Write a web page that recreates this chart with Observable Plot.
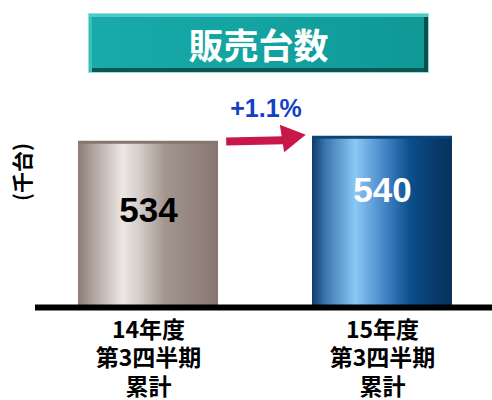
<!DOCTYPE html>
<html>
<head>
<meta charset="utf-8">
<script src="https://cdn.jsdelivr.net/npm/d3@7"></script>
<script src="https://cdn.jsdelivr.net/npm/@observablehq/plot@0.6"></script>
<style>
  html, body { margin: 0; padding: 0; background: #ffffff; }
  #wrap { position: relative; width: 492px; height: 400px; overflow: hidden; }
  #title {
    position: absolute; left: 88px; top: 13px; width: 341px; height: 60px;
    box-sizing: border-box;
    background: linear-gradient(to right, #18ABA9, #13A3A1 50%, #0E9896);
    border: 1px solid #8FE3DF;
    box-shadow: inset 0 3px 0 #4FC9C5, inset 3px 0 0 #3CBDB9, inset -4px 0 0 #0B4F4D, inset 0 -4px 0 #0C5553;
    display: flex; align-items: center; justify-content: center;
    color: #ffffff; font-family: 'Noto Sans CJK JP', sans-serif; font-weight: bold; font-size: 35px;
    z-index: 2;
  }
  #chart { position: absolute; left: 0; top: 0; }
</style>
</head>
<body>
<div id="wrap">
  <div id="title"></div>
  <div id="chart"></div>
</div>
<script>
const title = "販売台数";
const categories = ["14年度\n第3四半期\n累計", "15年度\n第3四半期\n累計"];
const values = [534, 540];
const changeLabel = "+1.1%";
const unitLabel = "(千台)";
const yDomain = [336, 540];

document.getElementById("title").textContent = title;

const data = categories.map((c, i) => ({category: c, value: values[i], key: i}));
const latin = "'Liberation Sans', Arial, sans-serif";

const svg = Plot.plot({
  width: 492,
  height: 400,
  marginTop: 136.7,
  marginBottom: 93,
  marginLeft: 54.5,
  marginRight: 15.4,
  x: {domain: categories, paddingInner: 0.4, paddingOuter: 0.1, axis: null},
  y: {domain: yDomain, axis: null},
  style: {fontFamily: "'Noto Sans CJK JP', sans-serif", background: "transparent", overflow: "visible"},
  marks: [
    Plot.barY(data, {filter: d => d.key === 0, x: "category", y1: yDomain[0], y2: "value", fill: "url(#gBar0)"}),
    Plot.barY(data, {filter: d => d.key === 1, x: "category", y1: yDomain[0], y2: "value", fill: "url(#gBar1)"}),
    Plot.tickY(data, {filter: d => d.key === 0, x: "category", y: "value", stroke: "#857770", strokeWidth: 3}),
    Plot.tickY(data, {filter: d => d.key === 1, x: "category", y: "value", stroke: "#0B4577", strokeWidth: 3}),
    Plot.ruleY([yDomain[0]], {stroke: "#000000", strokeWidth: 6, insetLeft: -19.5, insetRight: -15.4}),
    // value labels
    Plot.text(data, {filter: d => d.key === 0, x: "category", y: "value", text: d => String(d.value),
      dy: 68.8, fill: "#000000", fontSize: 35, fontWeight: "bold", fontFamily: latin, letterSpacing: 1.5}),
    Plot.text(data, {filter: d => d.key === 1, x: "category", y: "value", text: d => String(d.value),
      dy: 53.5, fill: "#ffffff", fontSize: 35, fontWeight: "bold", fontFamily: latin, letterSpacing: 1.5}),
    // category labels
    Plot.text(data, {x: "category", frameAnchor: "bottom", text: "category", lineAnchor: "top",
      dy: 10, lineHeight: 1.24, fontSize: 23, fontWeight: "bold", fill: "#000000"}),
    // unit label
    Plot.text([unitLabel], {text: d => d, frameAnchor: "top-left", textAnchor: "middle", lineAnchor: "middle",
      dx: -31.5, dy: 34.8, rotate: -90, fontSize: 21, fontWeight: "bold", fill: "#000000"}),
    // change arrow
    Plot.arrow([data], {x1: d => d[0].category, y1: d => d[0].value, x2: d => d[1].category, y2: d => d[1].value,
      insetStart: 77.7, insetEnd: 98.8, headLength: 0, bend: 0, stroke: "#C8174A", strokeWidth: 8,
      strokeLinecap: "butt", dy: 1}),
    Plot.dot([data[1]], {x: "category", y: "value", symbol: "triangle", r: 10.3, rotate: 81,
      fill: "#C8174A", stroke: "none", dx: -92.6, dy: 0}),
    Plot.text([changeLabel], {text: d => d, frameAnchor: "top", textAnchor: "middle", lineAnchor: "middle",
      dy: -28.5, fontSize: 25, fontWeight: "bold", fontFamily: latin, fill: "#1440C8", letterSpacing: 3})
  ]
});

const defs = d3.select(svg).insert("defs", ":first-child");
function grad(id, stops) {
  const g = defs.append("linearGradient").attr("id", id).attr("x1", 0).attr("x2", 1).attr("y1", 0).attr("y2", 0);
  stops.forEach(([o, c]) => g.append("stop").attr("offset", o).attr("stop-color", c));
}
grad("gBar0", [[0, "#8C7D76"], [0.12, "#B2A7A2"], [0.32, "#ECE8E6"], [0.45, "#D2CAC6"], [0.62, "#A3968F"], [0.85, "#92847D"], [1, "#85776F"]]);
grad("gBar1", [[0, "#0C3C6C"], [0.1, "#3C78AE"], [0.31, "#8AC8F5"], [0.5, "#4B8BCB"], [0.7, "#0A4F8E"], [0.88, "#083A6A"], [1, "#07335E"]]);

document.getElementById("chart").appendChild(svg);
</script>
</body>
</html>
